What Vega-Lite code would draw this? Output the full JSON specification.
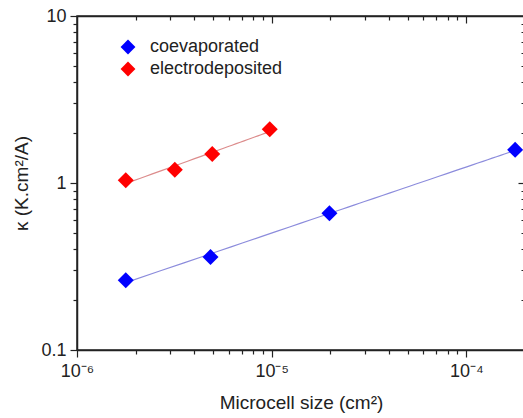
{
  "$schema": "https://vega.github.io/schema/vega-lite/v6.json",
  "width": 448,
  "height": 334,
  "autosize": {"type": "none"},
  "padding": {"left": 77, "top": 16, "right": 0, "bottom": 68},
  "background": "white",
  "config": {
    "view": {"stroke": "#222", "strokeWidth": 1.5},
    "font": "Liberation Sans",
    "axis": {"grid": false, "labelFlush": false, "domainColor": "#222", "tickColor": "#222", "domainWidth": 1.5, "tickWidth": 1.2, "labelColor": "#222", "titleColor": "#222", "labelFont": "Liberation Sans", "titleFont": "Liberation Sans", "titleFontWeight": "normal", "labelFontSize": 18, "titleFontSize": 19}
  },
  "data": {
    "values": [
      {"series": "coevaporated", "size": 1.78e-6, "k": 0.262},
      {"series": "coevaporated", "size": 4.85e-6, "k": 0.36},
      {"series": "coevaporated", "size": 1.98e-5, "k": 0.66},
      {"series": "coevaporated", "size": 1.78e-4, "k": 1.58},
      {"series": "electrodeposited", "size": 1.78e-6, "k": 1.04},
      {"series": "electrodeposited", "size": 3.18e-6, "k": 1.2},
      {"series": "electrodeposited", "size": 4.95e-6, "k": 1.49},
      {"series": "electrodeposited", "size": 9.77e-6, "k": 2.1}
    ]
  },
  "layer": [
    {
      "transform": [{"regression": "k", "on": "size", "groupby": ["series"], "method": "pow"}],
      "mark": {"type": "line", "strokeWidth": 1.2},
      "encoding": {
        "x": {"field": "size", "type": "quantitative", "scale": {"type": "log", "domain": [1e-6, 2e-4], "nice": false},
          "axis": {"orient": "bottom", "values": [2e-6,3e-6,4e-6,5e-6,6e-6,7e-6,8e-6,9e-6,2e-5,3e-5,4e-5,5e-5,6e-5,7e-5,8e-5,9e-5,2e-4], "labels": false, "tickSize": 4, "domain": false, "title": null}},
        "y": {"field": "k", "type": "quantitative", "scale": {"type": "log", "domain": [0.1, 10], "nice": false},
          "axis": {"orient": "left", "values": [0.2,0.3,0.4,0.5,0.6,0.7,0.8,0.9,2,3,4,5,6,7,8,9], "labels": false, "tickSize": 4, "domain": false, "title": null}},
        "color": {"field": "series", "type": "nominal", "scale": {"domain": ["coevaporated", "electrodeposited"], "range": ["#8c8cdc", "#dc8c8c"]}, "legend": null}
      }
    },
    {
      "mark": {"type": "point", "shape": "diamond", "filled": true, "size": 256, "opacity": 1},
      "encoding": {
        "x": {"field": "size", "type": "quantitative",
          "axis": {"orient": "bottom", "values": [1e-6, 1e-5, 1e-4], "tickSize": 7, "labelPadding": 5, "title": "Microcell size (cm²)", "titlePadding": 13,
            "labelExpr": "datum.value < 5e-6 ? '10⁻⁶' : datum.value < 5e-5 ? '10⁻⁵' : '10⁻⁴'"}},
        "y": {"field": "k", "type": "quantitative",
          "axis": {"orient": "left", "values": [0.1, 1, 10], "tickSize": 7, "labelPadding": 4, "title": "κ (K.cm²/A)", "titlePadding": 9,
            "labelExpr": "datum.value < 0.5 ? '0.1' : datum.value < 5 ? '1' : '10'"}},
        "color": {"field": "series", "type": "nominal", "scale": {"domain": ["coevaporated", "electrodeposited"], "range": ["#0000ff", "#ff0000"]},
          "legend": {"orient": "none", "legendX": 42, "legendY": 22, "title": null, "symbolType": "diamond", "symbolSize": 220, "labelFontSize": 18, "labelColor": "#222", "labelFont": "Liberation Sans", "rowPadding": 4, "labelOffset": 13, "symbolStrokeWidth": 0}}
      }
    },
    {
      "mark": {"type": "point", "opacity": 0},
      "encoding": {
        "x": {"field": "size", "type": "quantitative",
          "axis": {"orient": "top", "values": [1e-5, 1e-4], "tickSize": -7, "labels": false, "title": null}},
        "y": {"field": "k", "type": "quantitative",
          "axis": {"orient": "right", "values": [1], "tickSize": -7, "labels": false, "title": null}}
      }
    },
    {
      "mark": {"type": "point", "opacity": 0},
      "encoding": {
        "x": {"field": "size", "type": "quantitative",
          "axis": {"orient": "top", "values": [2e-6,3e-6,4e-6,5e-6,6e-6,7e-6,8e-6,9e-6,2e-5,3e-5,4e-5,5e-5,6e-5,7e-5,8e-5,9e-5], "tickSize": -4, "labels": false, "domain": false, "title": null}},
        "y": {"field": "k", "type": "quantitative",
          "axis": {"orient": "right", "values": [0.2,0.3,0.4,0.5,0.6,0.7,0.8,0.9,2,3,4,5,6,7,8,9], "tickSize": -4, "labels": false, "domain": false, "title": null}}
      }
    }
  ],
  "resolve": {"axis": {"x": "independent", "y": "independent"}, "scale": {"color": "independent"}}
}
